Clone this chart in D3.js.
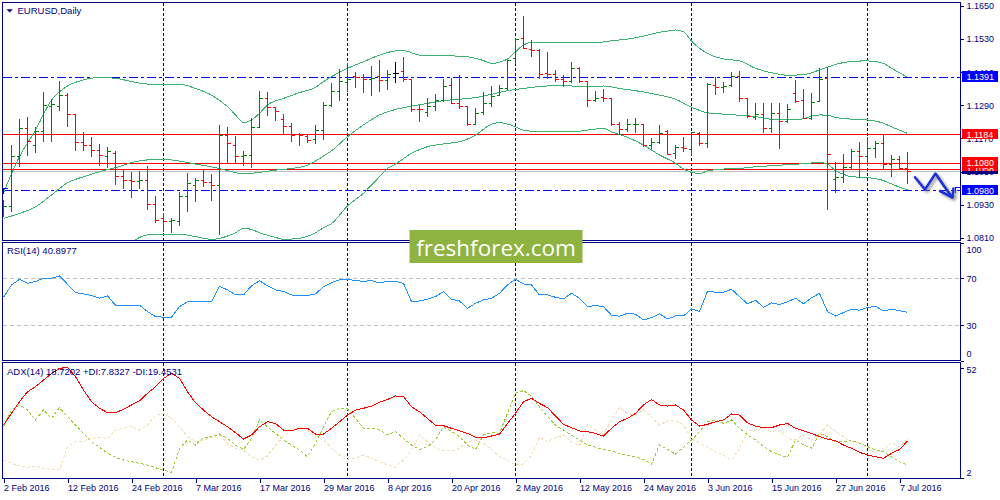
<!DOCTYPE html>
<html>
<head>
<meta charset="utf-8">
<title>EURUSD Daily</title>
<script src="https://cdnjs.cloudflare.com/ajax/libs/d3/7.8.5/d3.min.js"></script>
<style>
  body { margin: 0; background: #ffffff; }
  svg { display: block; }
  text { font-family: "Liberation Sans", Arial, sans-serif; fill: #000080; }
</style>
</head>
<body>
<svg id="chart" width="1000" height="500"></svg>
<script>
// Daily OHLC bars, 2 Feb 2016 .. 8 Jul 2016
var barOpen = [1.0913,1.0922,1.1104,1.1206,1.1146,1.1194,1.1287,1.1287,1.1324,1.1255,
  1.1156,1.1144,1.1125,1.1104,1.1116,1.1031,1.1017,1.1013,1.1019,1.0932,
  1.0880,1.0868,1.0870,1.0959,1.1001,1.1016,1.1011,1.1001,1.1182,1.1146,
  1.1104,1.1107,1.1210,1.1315,1.1283,1.1240,1.1212,1.1185,1.1176,1.1167,
  1.1197,1.1291,1.1339,1.1373,1.1396,1.1391,1.1382,1.1394,1.1379,1.1406,
  1.1412,1.1385,1.1275,1.1264,1.1285,1.1307,1.1360,1.1297,1.1285,1.1221,
  1.1263,1.1297,1.1327,1.1352,1.1460,1.1533,1.1494,1.1488,1.1406,1.1401,
  1.1382,1.1376,1.1424,1.1376,1.1309,1.1318,1.1313,1.1219,1.1203,1.1219,
  1.1219,1.1144,1.1154,1.1194,1.1116,1.1138,1.1130,1.1188,1.1152,1.1360,
  1.1355,1.1361,1.1394,1.1315,1.1246,1.1255,1.1206,1.1261,1.1231,1.1333,
  1.1309,1.1243,1.1303,1.1388,1.1021,1.1029,1.1064,1.1122,1.1104,1.1134,
  1.1152,1.1076,1.1094,1.1061];
var barHigh = [1.0947,1.1146,1.1240,1.1249,1.1212,1.1339,1.1313,1.1379,1.1333,1.1257,
  1.1192,1.1176,1.1150,1.1140,1.1124,1.1055,1.1049,1.1052,1.1071,1.0962,
  1.0898,1.0880,1.0974,1.1046,1.1028,1.1055,1.1041,1.1219,1.1210,1.1179,
  1.1124,1.1243,1.1343,1.1337,1.1285,1.1258,1.1225,1.1191,1.1182,1.1219,
  1.1301,1.1370,1.1420,1.1442,1.1412,1.1403,1.1432,1.1454,1.1418,1.1446,
  1.1464,1.1386,1.1291,1.1315,1.1330,1.1385,1.1388,1.1400,1.1287,1.1279,
  1.1337,1.1361,1.1364,1.1454,1.1533,1.1615,1.1527,1.1494,1.1482,1.1418,
  1.1400,1.1448,1.1430,1.1377,1.1343,1.1348,1.1315,1.1231,1.1240,1.1243,
  1.1222,1.1170,1.1219,1.1200,1.1146,1.1176,1.1194,1.1192,1.1370,1.1394,
  1.1376,1.1412,1.1414,1.1318,1.1299,1.1297,1.1299,1.1297,1.1295,1.1382,
  1.1348,1.1333,1.1424,1.1430,1.1083,1.1112,1.1130,1.1158,1.1174,1.1161,
  1.1186,1.1110,1.1106,1.1122];
var barLow = [1.0886,1.0904,1.1067,1.1107,1.1116,1.1158,1.1158,1.1271,1.1212,1.1125,
  1.1125,1.1104,1.1071,1.1061,1.1001,1.0986,1.0955,1.0986,1.0910,1.0862,
  1.0829,1.0826,1.0853,1.0902,1.0941,1.0993,1.0944,1.0820,1.1080,1.1080,
  1.1071,1.1061,1.1206,1.1252,1.1233,1.1186,1.1158,1.1144,1.1152,1.1150,
  1.1164,1.1285,1.1307,1.1339,1.1352,1.1333,1.1325,1.1337,1.1345,1.1370,
  1.1376,1.1267,1.1231,1.1246,1.1271,1.1303,1.1295,1.1276,1.1216,1.1219,
  1.1255,1.1285,1.1325,1.1345,1.1439,1.1494,1.1464,1.1385,1.1385,1.1376,
  1.1358,1.1372,1.1372,1.1283,1.1303,1.1303,1.1215,1.1182,1.1194,1.1188,
  1.1140,1.1130,1.1148,1.1110,1.1095,1.1122,1.1110,1.1142,1.1136,1.1327,
  1.1333,1.1358,1.1303,1.1243,1.1237,1.1188,1.1188,1.1130,1.1225,1.1299,
  1.1240,1.1237,1.1301,1.0910,1.0971,1.1009,1.1055,1.1025,1.1070,1.1098,
  1.1055,1.1031,1.1055,1.1003];
var barClose = [1.0922,1.1104,1.1206,1.1158,1.1194,1.1291,1.1293,1.1324,1.1255,1.1156,
  1.1144,1.1125,1.1107,1.1122,1.1031,1.1017,1.1013,1.1019,1.0932,1.0874,
  1.0870,1.0872,1.0959,1.1005,1.1016,1.1011,1.1001,1.1182,1.1150,1.1104,
  1.1107,1.1210,1.1315,1.1283,1.1267,1.1212,1.1182,1.1179,1.1164,1.1197,
  1.1291,1.1339,1.1378,1.1382,1.1391,1.1385,1.1388,1.1379,1.1400,1.1406,
  1.1385,1.1275,1.1273,1.1285,1.1307,1.1358,1.1297,1.1287,1.1221,1.1261,
  1.1297,1.1321,1.1352,1.1451,1.1530,1.1497,1.1490,1.1403,1.1401,1.1382,
  1.1376,1.1424,1.1376,1.1307,1.1315,1.1313,1.1219,1.1203,1.1219,1.1222,
  1.1144,1.1154,1.1188,1.1112,1.1138,1.1134,1.1191,1.1152,1.1367,1.1355,
  1.1358,1.1394,1.1315,1.1249,1.1255,1.1206,1.1261,1.1231,1.1275,1.1303,
  1.1243,1.1299,1.1382,1.1110,1.1029,1.1064,1.1122,1.1104,1.1134,1.1152,
  1.1076,1.1094,1.1061,1.1051];

// Bollinger bands, read at the bar indices given in the *Idx arrays
var bbUpperIdx = [0,2,4,6,8,10,12,14,16,18,20,22,24,26,28,29,30,31,32,33,35,37,39,40,41,43,45,47,49,50,
  52,54,56,58,60,61,62,63,64,65,66,70,74,76,78,80,82,83,84,85,86,87,88,90,92,94,96,98,100,102,
  104,106,108,110,111,112,113];
var bbUpper = [1.0973,1.1104,1.1200,1.1309,1.1360,1.1382,1.1391,1.1388,1.1376,1.1367,
  1.1367,1.1367,1.1351,1.1327,1.1285,1.1255,1.1227,1.1237,1.1261,1.1291,
  1.1315,1.1336,1.1355,1.1376,1.1394,1.1424,1.1448,1.1472,1.1487,1.1488,
  1.1472,1.1469,1.1469,1.1466,1.1452,1.1442,1.1446,1.1458,1.1484,1.1509,
  1.1518,1.1518,1.1517,1.1524,1.1530,1.1541,1.1555,1.1559,1.1563,1.1557,
  1.1523,1.1497,1.1478,1.1458,1.1451,1.1424,1.1408,1.1399,1.1401,1.1418,
  1.1438,1.1449,1.1451,1.1442,1.1424,1.1408,1.1391];
var bbMidIdx = [0,2,4,6,8,10,12,14,16,18,20,22,24,26,28,30,32,34,36,38,40,
  41,43,45,47,49,51,53,55,57,59,61,63,65,67,69,71,73,75,77,79,81,
  82,84,86,88,90,92,94,96,98,100,101,102,103,104,106,108,110,111,112,113];
var bbMid = [1.0880,1.0898,1.0922,1.0965,1.1009,1.1031,1.1049,1.1064,1.1082,1.1092,
  1.1094,1.1088,1.1077,1.1067,1.1053,1.1041,1.1047,1.1055,1.1061,1.1073,1.1106,
  1.1125,1.1176,1.1219,1.1255,1.1275,1.1287,1.1297,1.1307,1.1312,1.1318,
  1.1330,1.1343,1.1351,1.1358,1.1361,1.1360,1.1358,1.1360,1.1351,1.1343,1.1333,
  1.1327,1.1312,1.1283,1.1263,1.1258,1.1254,1.1249,1.1239,1.1237,1.1241,
  1.1251,1.1255,1.1254,1.1246,1.1240,1.1237,1.1225,1.1212,1.1200,1.1188];
var bbLowerIdx = [0,2,4,6,8,10,12,14,16,17,18,19,20,22,24,26,28,29,30,31,
  32,34,35,37,39,40,41,43,45,46,47,48,49,51,53,55,57,59,60,61,
  62,63,64,65,67,71,75,76,78,80,82,84,85,86,87,88,90,92,94,96,
  98,100,102,103,104,105,106,108,110,111,112,113];
var bbLower = [1.0787,1.0693,1.0644,1.0620,1.0659,1.0681,1.0707,1.0740,1.0792,1.0811,
  1.0820,1.0823,1.0822,1.0823,1.0814,1.0804,1.0816,1.0828,1.0844,1.0840,
  1.0828,1.0811,1.0804,1.0808,1.0828,1.0846,1.0861,1.0925,1.0971,1.1001,
  1.1031,1.1061,1.1077,1.1116,1.1140,1.1150,1.1158,1.1182,1.1203,1.1222,
  1.1227,1.1222,1.1212,1.1200,1.1194,1.1194,1.1206,1.1194,1.1174,1.1146,
  1.1110,1.1080,1.1059,1.1047,1.1043,1.1052,1.1059,1.1061,1.1067,1.1071,
  1.1075,1.1078,1.1083,1.1077,1.1053,1.1040,1.1031,1.1028,1.1017,1.1005,
  1.0993,1.0983];

// RSI(14) per bar
var rsiValues = [53.8,64.3,69.1,65.7,67.2,70.0,70.0,72.0,64.9,57.8,
  56.7,55.2,53.0,55.0,47.0,46.5,46.5,47.0,41.6,37.4,
  36.8,36.8,45.9,49.9,50.4,50.4,49.9,63.2,60.1,55.8,
  55.8,63.5,68.0,63.5,60.1,58.7,55.8,55.2,55.2,56.7,
  62.9,66.3,68.6,69.1,68.0,67.4,68.0,66.0,67.4,67.4,
  65.7,50.1,50.7,52.1,54.4,58.7,52.1,50.7,44.5,48.7,
  51.6,53.0,57.2,64.3,69.1,65.2,64.3,55.8,55.8,53.8,
  52.4,57.2,53.0,45.9,46.7,45.9,38.5,37.7,40.2,39.4,
  34.5,36.5,39.9,35.4,37.9,37.9,43.9,41.6,58.9,58.1,
  58.1,60.6,54.4,48.2,51.3,45.3,49.0,47.6,49.9,53.0,
  48.4,53.3,57.2,41.6,37.9,40.8,43.6,42.8,45.0,46.2,
  42.2,43.6,42.5,40.9];

// ADX(14), +DI, -DI per bar
var adxValues = [26.0,31.3,36.6,41.1,43.4,46.4,49.4,51.7,52.2,47.9,
  41.9,36.6,33.6,31.6,31.6,33.1,35.1,37.0,40.4,43.4,
  47.2,49.4,47.2,41.1,36.1,32.8,29.8,27.5,25.2,22.5,
  19.6,21.5,25.2,27.5,26.7,23.7,23.3,24.5,24.5,21.9,
  21.9,24.5,27.5,30.5,32.8,33.6,34.6,36.3,37.6,39.2,
  38.9,34.3,32.0,29.0,25.8,25.7,24.5,23.3,22.2,20.4,
  20.2,21.0,21.9,26.7,31.3,36.6,38.1,35.8,33.9,30.1,
  26.3,24.8,23.3,23.0,22.2,21.0,24.5,27.5,29.0,31.3,
  35.1,37.6,35.1,34.6,35.1,32.8,28.3,25.5,26.3,27.5,
  28.3,31.0,30.5,27.0,25.5,24.8,24.8,26.0,26.7,24.5,
  23.3,22.2,20.7,19.6,18.9,16.9,15.4,13.6,12.4,11.6,
  10.9,13.1,14.9,18.7];
var plusDI = [25.2,32.8,35.1,32.8,28.3,32.8,29.0,33.9,29.8,26.0,
  22.2,18.4,15.9,13.1,11.3,10.1,9.3,8.6,7.8,6.6,
  5.6,4.5,15.4,19.2,16.9,20.4,20.7,21.9,19.9,16.9,
  14.9,19.9,28.3,25.2,22.2,19.2,16.9,14.6,11.6,17.7,
  25.2,32.0,33.6,33.3,29.0,24.5,24.5,23.7,21.5,23.0,
  19.9,16.9,14.9,16.2,19.2,25.2,23.0,20.7,16.9,14.9,
  21.5,22.5,22.2,31.3,40.4,41.6,39.2,34.3,29.8,26.0,
  23.7,21.5,19.2,16.9,15.9,14.9,14.3,13.1,12.1,11.6,
  10.4,8.3,16.9,14.9,12.8,15.9,19.2,23.0,27.5,28.3,
  26.7,28.3,24.5,21.5,19.2,16.2,13.9,12.4,11.3,19.2,
  16.9,15.4,22.2,20.7,18.4,18.4,18.9,17.7,16.2,14.6,
  13.9,11.6,9.3,7.8];
var minusDI = [10.1,8.6,7.4,6.8,7.4,6.3,5.9,5.6,16.2,18.4,
  18.4,19.9,20.4,19.9,23.7,24.5,25.5,23.7,26.0,30.5,
  31.3,29.0,25.2,20.7,18.4,19.2,20.4,21.5,17.7,15.4,
  14.6,11.6,10.1,11.9,16.9,20.7,23.4,25.2,23.7,20.7,
  19.2,15.4,12.4,10.1,10.9,12.4,10.9,9.3,7.8,6.8,
  10.1,14.6,21.5,18.4,15.4,14.3,14.2,15.4,18.4,19.2,
  17.7,14.9,11.6,10.1,7.8,8.3,12.4,20.4,18.4,20.2,
  21.5,18.4,16.5,26.0,23.7,21.5,28.3,33.9,31.3,30.5,
  32.8,29.8,26.0,27.8,28.0,26.0,19.9,17.7,15.9,13.9,
  12.4,10.1,15.4,23.7,23.7,24.5,23.0,23.7,19.9,19.2,
  21.5,19.2,21.5,26.0,23.0,20.7,18.4,18.0,15.4,13.4,
  14.6,18.0,16.2,19.5];

// time axis labels, month-start grid, price levels
var tickIdx = [0,8,16,24,32,40,48,56,64,72,80,88,96,104,112];
var tickLabels = ["2 Feb 2016","12 Feb 2016","24 Feb 2016","7 Mar 2016","17 Mar 2016",
  "29 Mar 2016","8 Apr 2016","20 Apr 2016","2 May 2016","12 May 2016","24 May 2016",
  "3 Jun 2016","15 Jun 2016","27 Jun 2016","7 Jul 2016"];
var monthIdx = [20, 43, 64, 86, 108];
var priceTicks = [1.1650, 1.1530, 1.1410, 1.1290, 1.1170, 1.1050, 1.0930, 1.0810];
var blueLevels = [1.1391, 1.0980];
var redLevels = [1.1184, 1.1080, 1.1058];
var bidPrice = 1.1051;
var rsiTicks = [100, 70, 30, 0];
var rsiLevels = [70, 30];
var adxTicks = [52, 2];

var navy = "#000080";
var svg = d3.select("#chart");

// panels
var leftX = 2.5, axisX = 960.5;
var panels = {
  main: { top: 2.5, bottom: 240.5 },
  rsi: { top: 242.5, bottom: 360.5 },
  adx: { top: 362.5, bottom: 478.5 }
};

var x = d3.scaleLinear().domain([0, 113]).range([3.5, 907.5]);
var yMain = d3.scaleLinear().domain([1.0810, 1.1650]).range([237.7, 6]);
var yRsi = d3.scaleLinear().domain([0, 100]).range([360.5, 243]);
var yAdx = d3.scaleLinear().domain([1.8, 54.3]).range([478.3, 362.7]);

var defs = svg.append("defs");
Object.keys(panels).forEach(function(k) {
  var p = panels[k];
  defs.append("clipPath").attr("id", "clip-" + k)
    .append("rect")
    .attr("x", leftX).attr("y", p.top)
    .attr("width", axisX - leftX).attr("height", p.bottom - p.top);
});
var shadow = defs.append("filter").attr("id", "shadow")
  .attr("x", "-30%").attr("y", "-30%").attr("width", "160%").attr("height", "160%");
shadow.append("feDropShadow").attr("dx", 2).attr("dy", 2)
  .attr("stdDeviation", 1.4).attr("flood-color", "#777").attr("flood-opacity", 0.8);

// vertical month grid lines in every panel
Object.keys(panels).forEach(function(k) {
  var p = panels[k];
  svg.append("g").selectAll("line")
    .data(monthIdx)
    .enter().append("line")
    .attr("x1", function(d) { return x(d); })
    .attr("x2", function(d) { return x(d); })
    .attr("y1", p.top).attr("y2", p.bottom)
    .attr("stroke", navy).attr("stroke-dasharray", "3,2")
    .attr("shape-rendering", "crispEdges");
});

// ---------- main price panel ----------
var main = svg.append("g").attr("clip-path", "url(#clip-main)");

// user levels
main.append("line")
  .attr("x1", leftX).attr("x2", axisX)
  .attr("y1", yMain(bidPrice)).attr("y2", yMain(bidPrice))
  .attr("stroke", "#c0c0c0").attr("shape-rendering", "crispEdges");

main.selectAll(".lvl-blue")
  .data(blueLevels)
  .enter().append("line")
  .attr("class", "lvl-blue")
  .attr("x1", leftX).attr("x2", axisX)
  .attr("y1", function(d) { return yMain(d); })
  .attr("y2", function(d) { return yMain(d); })
  .attr("stroke", "#0000ff").attr("stroke-dasharray", "9,3,3,3")
  .attr("shape-rendering", "crispEdges");

main.selectAll(".lvl-red")
  .data(redLevels)
  .enter().append("line")
  .attr("class", "lvl-red")
  .attr("x1", leftX).attr("x2", axisX)
  .attr("y1", function(d) { return yMain(d); })
  .attr("y2", function(d) { return yMain(d); })
  .attr("stroke", "#ff0000").attr("stroke-width", 1.3)
  .attr("shape-rendering", "crispEdges");

// Bollinger bands
function bandPath(idx, vals) {
  return d3.line()
    .x(function(d, k) { return x(idx[k]); })
    .y(function(d) { return yMain(d); })
    .curve(d3.curveMonotoneX)(vals);
}
[[bbUpperIdx, bbUpper], [bbMidIdx, bbMid], [bbLowerIdx, bbLower]].forEach(function(b) {
  main.append("path")
    .attr("d", bandPath(b[0], b[1]))
    .attr("fill", "none")
    .attr("stroke", "#3cb371")
    .attr("stroke-width", 1)
    .attr("shape-rendering", "crispEdges");
});

// OHLC bars
var barIdx = d3.range(barOpen.length);
function barColor(i) {
  if (barClose[i] > barOpen[i]) return "#008000";
  if (barClose[i] < barOpen[i]) return "#ff0000";
  return "#000000";
}
var bars = main.selectAll(".bar")
  .data(barIdx)
  .enter().append("g")
  .attr("class", "bar")
  .attr("stroke", barColor)
  .attr("shape-rendering", "crispEdges");
bars.append("line")
  .attr("x1", function(i) { return x(i); })
  .attr("x2", function(i) { return x(i); })
  .attr("y1", function(i) { return yMain(barHigh[i]); })
  .attr("y2", function(i) { return yMain(barLow[i]); });
bars.append("line")
  .attr("x1", function(i) { return x(i) - 3; })
  .attr("x2", function(i) { return x(i); })
  .attr("y1", function(i) { return yMain(barOpen[i]); })
  .attr("y2", function(i) { return yMain(barOpen[i]); });
bars.append("line")
  .attr("x1", function(i) { return x(i); })
  .attr("x2", function(i) { return x(i) + 3; })
  .attr("y1", function(i) { return yMain(barClose[i]); })
  .attr("y2", function(i) { return yMain(barClose[i]); });

// small level markers at the ends of the 1.0980 line
svg.append("path")
  .attr("d", "M3.5,193.5V188.5H7.5M954.5,187.5H960M955.5,187.5V193")
  .attr("fill", "none").attr("stroke", "#0000ff").attr("shape-rendering", "crispEdges");

// title
svg.append("path").attr("d", "M6.5,9.2H12.8L9.65,12.6Z").attr("fill", navy);
svg.append("text").attr("x", 17.5).attr("y", 14)
  .style("font-size", "9.5px").text("EURUSD,Daily");

// ---------- RSI panel ----------
var rsiG = svg.append("g").attr("clip-path", "url(#clip-rsi)");
rsiG.selectAll(".rsi-lvl")
  .data(rsiLevels)
  .enter().append("line")
  .attr("class", "rsi-lvl")
  .attr("x1", leftX).attr("x2", axisX)
  .attr("y1", function(d) { return yRsi(d); })
  .attr("y2", function(d) { return yRsi(d); })
  .attr("stroke", "#c0c0c0").attr("stroke-dasharray", "4,3")
  .attr("shape-rendering", "crispEdges");
rsiG.append("path")
  .attr("d", d3.line()
    .x(function(d, i) { return x(i); })
    .y(function(d) { return yRsi(d); })(rsiValues))
  .attr("fill", "none").attr("stroke", "#1e90ff").attr("stroke-width", 1)
  .attr("shape-rendering", "crispEdges");
svg.append("text").attr("x", 7).attr("y", 254)
  .style("font-size", "9.5px").text("RSI(14) 40.8977");

// ---------- ADX panel ----------
var adxG = svg.append("g").attr("clip-path", "url(#clip-adx)");
function adxLine(vals) {
  return d3.line()
    .x(function(d, i) { return x(i); })
    .y(function(d) { return yAdx(d); })(vals);
}
adxG.append("path").attr("d", adxLine(minusDI))
  .attr("fill", "none").attr("stroke", "#f5deb3").attr("stroke-width", 1)
  .attr("stroke-dasharray", "3,2").attr("shape-rendering", "crispEdges");
adxG.append("path").attr("d", adxLine(plusDI))
  .attr("fill", "none").attr("stroke", "#9acd32").attr("stroke-width", 1)
  .attr("stroke-dasharray", "3,2").attr("shape-rendering", "crispEdges");
adxG.append("path").attr("d", adxLine(adxValues))
  .attr("fill", "none").attr("stroke", "#ff0000").attr("stroke-width", 1)
  .attr("shape-rendering", "crispEdges");
svg.append("text").attr("x", 7).attr("y", 375)
  .style("font-size", "9.5px").text("ADX(14) 18.7202 +DI:7.8327 -DI:19.4531");

// panel frames
Object.keys(panels).forEach(function(k) {
  var p = panels[k];
  svg.append("rect")
    .attr("x", leftX).attr("y", p.top)
    .attr("width", axisX - leftX).attr("height", p.bottom - p.top)
    .attr("fill", "none").attr("stroke", navy)
    .attr("shape-rendering", "crispEdges");
});

// ---------- axes ----------
function styleAxis(g) {
  g.select(".domain").remove();
  g.selectAll(".tick line").attr("stroke", navy).attr("shape-rendering", "crispEdges");
  g.selectAll(".tick text")
    .attr("fill", navy)
    .style("font-family", "'Liberation Sans', Arial, sans-serif")
    .style("font-size", "9px");
}

var priceAxis = svg.append("g")
  .attr("transform", "translate(" + axisX + ",0)")
  .call(d3.axisRight(yMain).tickValues(priceTicks)
    .tickFormat(d3.format(".4f")).tickSize(3).tickPadding(3));
styleAxis(priceAxis);

var rsiAxis = svg.append("g")
  .attr("transform", "translate(" + axisX + ",0)")
  .call(d3.axisRight(yRsi).tickValues(rsiTicks).tickSize(3).tickPadding(3));
styleAxis(rsiAxis);
// keep the end labels inside the panel
rsiAxis.selectAll(".tick text").attr("y", function(d) {
  if (d === 100) return panels.rsi.top + 6.8 - yRsi(d);
  if (d === 0) return panels.rsi.bottom - 7.2 - yRsi(d);
  return 0;
});

var adxAxis = svg.append("g")
  .attr("transform", "translate(" + axisX + ",0)")
  .call(d3.axisRight(yAdx).tickValues(adxTicks).tickSize(3).tickPadding(3));
styleAxis(adxAxis);
adxAxis.selectAll(".tick text").attr("y", function(d) {
  if (d === 52) return panels.adx.top + 6.8 - yAdx(d);
  return panels.adx.bottom - 6 - yAdx(d);
});

var timeAxis = svg.append("g")
  .attr("transform", "translate(0," + panels.adx.bottom + ")")
  .call(d3.axisBottom(x).tickValues(tickIdx)
    .tickFormat(function(d, k) { return tickLabels[k]; })
    .tickSize(4).tickPadding(2));
styleAxis(timeAxis);
timeAxis.selectAll(".tick text").attr("text-anchor", "start").attr("x", 0);

// ---------- price labels on the axis ----------
function priceBox(value, fill) {
  var y = yMain(value);
  var g = svg.append("g");
  g.append("rect")
    .attr("x", 962).attr("y", y - 6)
    .attr("width", 36).attr("height", 10.5)
    .attr("fill", fill).attr("shape-rendering", "crispEdges");
  g.append("text")
    .attr("x", 966.5).attr("y", y + 3)
    .style("font-size", "9px").style("fill", "#ffffff")
    .text(d3.format(".4f")(value));
}
priceBox(blueLevels[0], "#0000ff");
priceBox(redLevels[0], "#ff0000");
priceBox(redLevels[2], "#ff0000");
priceBox(redLevels[1], "#ff0000");
// current bid marker, mostly hidden under the level labels
svg.append("rect")
  .attr("x", 962).attr("y", yMain(bidPrice) - 0.5)
  .attr("width", 36).attr("height", 2.8)
  .attr("fill", navy).attr("shape-rendering", "crispEdges");
priceBox(blueLevels[1], "#0000ff");

// ---------- forecast arrow ----------
var arrow = svg.append("g").attr("filter", "url(#shadow)")
  .attr("fill", "none").attr("stroke", "#1f33d6")
  .attr("stroke-width", 2.6).attr("stroke-linejoin", "round").attr("stroke-linecap", "round");
arrow.append("path").attr("d", "M915,177.3L925,189.5L935.5,173.5L944,186L952,197");
arrow.append("path").attr("d", "M940,191L952.5,197.5L953.5,188.5");

// ---------- watermark ----------
svg.append("rect")
  .attr("x", 409.5).attr("y", 230).attr("width", 173).attr("height", 33)
  .attr("fill", "#8fb340");
svg.append("text")
  .attr("x", 496).attr("y", 255.5).attr("text-anchor", "middle")
  .style("font-family", "'Open Sans', sans-serif")
  .style("font-size", "22.5px").style("fill", "#ffffff")
  .text("freshforex.com");
</script>
</body>
</html>
